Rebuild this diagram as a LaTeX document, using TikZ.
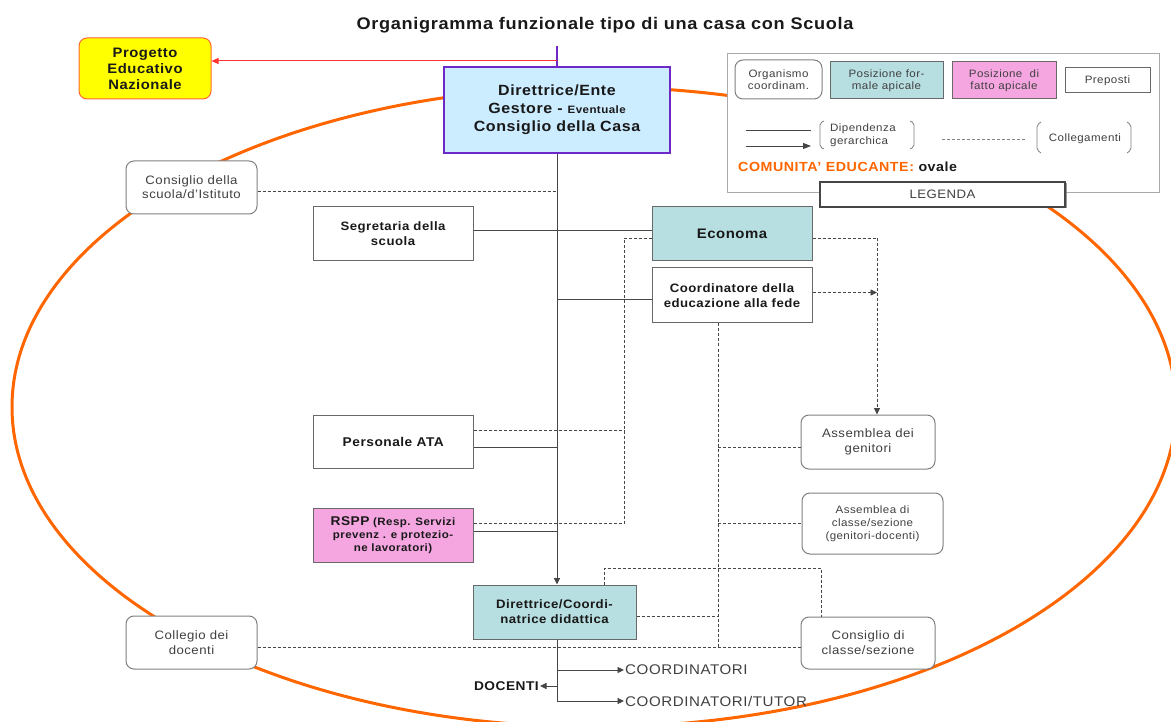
\documentclass[tikz,border=0pt]{standalone}
\usepackage{fontspec}
\setmainfont{Liberation Sans}[FakeStretch=1.08, LetterSpace=4]
\usetikzlibrary{arrows.meta,calc,shadows}
\newcommand{\fsz}[2]{\fontsize{#1}{#2}\selectfont}
\definecolor{orng}{RGB}{255,102,0}
\definecolor{yelf}{RGB}{255,255,0}
\definecolor{pborder}{RGB}{255,102,51}
\definecolor{redl}{RGB}{255,51,51}
\definecolor{purp}{RGB}{110,40,200}
\definecolor{ltblue}{RGB}{204,236,255}
\definecolor{tealf}{RGB}{183,222,224}
\definecolor{pinkf}{RGB}{245,166,225}
\definecolor{boxgray}{RGB}{105,105,105}
\definecolor{rgray}{RGB}{128,128,128}
\definecolor{txtgray}{RGB}{64,64,64}
\definecolor{lgray}{RGB}{170,170,170}
\definecolor{lnc}{RGB}{70,70,70}
\definecolor{bold}{RGB}{25,25,25}
\begin{document}
\begin{tikzpicture}[x=1pt,y=-1pt,
  nbox/.style={draw=boxgray, line width=1pt, fill=white, align=center, inner sep=2pt, text=bold},
  rbox/.style={nbox, rounded corners=8pt, draw=rgray, text=txtgray},
  sol/.style={draw=lnc, line width=0.9pt},
  dsh/.style={draw=lnc, line width=0.8pt, dash pattern=on 3pt off 2pt},
  arr/.style={-{Triangle[length=6.5pt,width=6pt]}},
  lgt/.style={font=\fsz{10.7}{12.5}, text=txtgray, align=center},
  lbl/.style={inner sep=1pt, text=txtgray}]
\useasboundingbox (0,0) rectangle (1171,722);
% community oval
\draw[orng, line width=3pt] (594,407) ellipse [x radius=582pt, y radius=320pt];

% title
\node[font=\fsz{16.8}{20}\bfseries, text=bold] (title) at (605,25) {Organigramma funzionale tipo di una casa con Scuola};

% main nodes
\node[nbox, fill=yelf, draw=pborder, rounded corners=8pt, minimum width=132pt, minimum height=61pt, font=\fsz{13.7}{16}\bfseries] (pen) at (145,68.5) {Progetto\\Educativo\\Nazionale};
\node[nbox, fill=ltblue, draw=purp, line width=2.5pt, minimum width=226pt, minimum height=86pt, font=\fsz{14.8}{18}\bfseries] (dir) at (557,110) {Direttrice/Ente\\Gestore - {\fsz{10.7}{18}Eventuale}\\Consiglio della Casa};
\node[rbox, minimum width=131pt, minimum height=53pt, font=\fsz{12.2}{14}] (cons) at (191.5,187.5) {Consiglio della\\scuola/d'Istituto};
\node[nbox, minimum width=160pt, minimum height=54pt, font=\fsz{12.2}{15}\bfseries] (seg) at (393,234) {Segretaria della\\scuola};
\node[nbox, fill=tealf, minimum width=160pt, minimum height=54pt, font=\fsz{13.8}{16}\bfseries] (eco) at (732,234) {Economa};
\node[nbox, minimum width=160pt, minimum height=55pt, font=\fsz{12.2}{15}\bfseries] (coo) at (732,295.5) {Coordinatore della\\educazione alla fede};
\node[nbox, minimum width=160pt, minimum height=53pt, font=\fsz{12.7}{15}\bfseries] (ata) at (393.3,442) {Personale ATA};
\node[nbox, fill=pinkf, minimum width=160pt, minimum height=54pt, font=\fsz{10.7}{13}\bfseries] (rspp) at (393,535) {{\fsz{12.7}{13}RSPP} (Resp. Servizi\\prevenz . e protezio-\\ne lavoratori)};
\node[nbox, fill=tealf, minimum width=163pt, minimum height=54pt, font=\fsz{12.2}{15}\bfseries] (dcd) at (554.5,612) {Direttrice/Coordi-\\natrice didattica};
\node[rbox, minimum width=134pt, minimum height=54pt, font=\fsz{12.2}{15}] (asg) at (868,442) {Assemblea dei\\genitori};
\node[rbox, minimum width=141pt, minimum height=61pt, font=\fsz{10.7}{13}] (asc) at (872.5,523.5) {Assemblea di\\classe/sezione\\(genitori-docenti)};
\node[rbox, minimum width=134pt, minimum height=52pt, font=\fsz{12.2}{15}] (cdc) at (868,643) {Consiglio di\\classe/sezione};
\node[rbox, minimum width=131pt, minimum height=53pt, font=\fsz{12.2}{15}] (col) at (191.5,642.5) {Collegio dei\\docenti};

% bottom labels
\node[lbl, anchor=west, font=\fsz{14}{15}] (cr) at (624,670) {COORDINATORI};
\node[lbl, anchor=west, font=\fsz{14}{15}] (ct) at (624,701) {COORDINATORI/TUTOR};
\node[lbl, anchor=east, font=\fsz{12.7}{14}\bfseries, text=bold] (doc) at (540,686) {DOCENTI};

% legend
\node[draw=lgray, fill=white, line width=0.8pt, minimum width=432pt, minimum height=139pt, inner sep=0pt] (leg) at (943,122.5) {};
\node[nbox, draw=lnc, line width=1.4pt, drop shadow={shadow xshift=1.5pt, shadow yshift=-1.5pt, fill=gray, opacity=0.8}, minimum width=245pt, minimum height=25pt, font=\fsz{12.2}{14}, text=txtgray] (legt) at (942.5,194.5) {LEGENDA};
\node[rbox, minimum width=87pt, minimum height=39pt, lgt] (lorg) at (778.5,79.5) {Organismo\\coordinam.};
\node[nbox, fill=tealf, minimum width=113pt, minimum height=37pt, lgt] (lpf) at (886.5,80.5) {Posizione for-\\male apicale};
\node[nbox, fill=pinkf, minimum width=104pt, minimum height=37pt, lgt] (lpa) at (1004,80.5) {Posizione\ \ di\\fatto apicale};
\node[nbox, minimum width=85pt, minimum height=25pt, lgt] (lpr) at (1107.5,80.5) {Preposti};
\coordinate (s1a) at (746,130); \coordinate (s1b) at (811,130);
\coordinate (s2a) at (746,146); \coordinate (s2b) at (811,146);
\draw[sol] (s1a) -- (s1b);
\draw[sol,-{Triangle[length=8pt,width=6pt]}] (s2a) -- (s2b);
\node[lgt, anchor=west, align=left, inner sep=1pt] (ldip) at (829,135) {Dipendenza\\gerarchica};
\draw[draw=rgray, line width=0.8pt, rounded corners=2pt] (824,121) -- (820,123) -- (820,147) -- (824,149);
\draw[draw=rgray, line width=0.8pt, rounded corners=2pt] (910,121) -- (914,123) -- (914,147) -- (910,149);
\coordinate (dla) at (942,139); \coordinate (dlb) at (1025,139);
\draw[dsh, draw=rgray] (dla) -- (dlb);
\node[lgt] (lcol) at (1085,139) {Collegamenti};
\draw[draw=rgray, line width=0.8pt, rounded corners=2pt] (1041,122) -- (1037,125) -- (1037,150) -- (1041,153);
\draw[draw=rgray, line width=0.8pt, rounded corners=2pt] (1127,122) -- (1131,125) -- (1131,150) -- (1127,153);
\node[anchor=west, inner sep=0pt, font=\fsz{13.2}{15}\bfseries, text=orng] (com) at (738,167) {COMUNITA' EDUCANTE: \textcolor{bold}{ovale}};

% top connectors
\coordinate (ptop) at (557,46);
\coordinate (pr) at (557,61);
\draw[purp, line width=1.5pt] (ptop) -- (dir.north);
\draw[redl, line width=1pt, -{Triangle[length=7pt,width=6pt]}] (pr) -- (pr -| pen.east);

% hierarchy (solid)
\draw[sol,arr] (dir.south) -- (dir.south |- dcd.north);
\coordinate (s1) at ($(seg.east)+(0,-4)$);
\draw[sol] (s1) -- (s1 -| eco.west);
\coordinate (q1) at ($(coo.west)+(0,3.5)$);
\draw[sol] (q1 -| dir.south) -- (q1);
\coordinate (a1) at ($(ata.east)+(0,5)$);
\draw[sol] (a1) -- (a1 -| dir.south);
\coordinate (r1) at ($(rspp.east)+(0,-4)$);
\draw[sol] (r1) -- (r1 -| dir.south);

% links (dashed)
\coordinate (c1) at ($(cons.east)+(0,4)$);
\draw[dsh] (c1) -- (c1 -| dir.south);
\coordinate (e1) at ($(eco.west)+(0,4)$);
\coordinate (lv) at (624,0);
\coordinate (a2) at ($(ata.east)+(0,-12)$);
\coordinate (r2) at ($(rspp.east)+(0,-12)$);
\draw[dsh] (e1) -- (e1 -| lv) -- (r2 -| lv) -- (r2);
\draw[dsh] (a2) -- (a2 -| lv);

\coordinate (e2) at ($(eco.east)+(0,4)$);
\coordinate (rv) at (877,0);
\draw[dsh,arr] (e2) -- (e2 -| rv) -- (rv |- asg.north);
\coordinate (c2) at ($(coo.east)+(0,-3)$);
\draw[dsh,arr] (c2) -- (c2 -| rv);

\coordinate (cv) at (718,0);
\coordinate (k1) at ($(col.east)+(0,4.5)$);
\draw[dsh] (cv |- coo.south) -- (cv |- k1);
\coordinate (g1) at ($(asg.west)+(0,5)$);
\draw[dsh] (g1 -| cv) -- (g1);
\draw[dsh] (asc.west -| cv) -- (asc.west);
\coordinate (d1) at ($(dcd.east)+(0,4)$);
\draw[dsh] (d1) -- (d1 -| cv);
\draw[dsh] (k1) -- (k1 -| cdc.west);

\coordinate (tx) at (604,568);
\coordinate (cx) at (821,0);
\draw[dsh] (tx |- dcd.north) -- (tx) -- (tx -| cx) -- (cx |- cdc.north);

% bottom
\coordinate (b1) at (dir.south |- dcd.south);
\draw[sol,arr] (b1) -- (b1 |- ct.west) -- (ct.west);
\draw[sol,arr] (b1 |- cr.west) -- (cr.west);
\draw[sol,arr] (b1 |- doc.east) -- (doc.east);
\end{tikzpicture}
\end{document}
